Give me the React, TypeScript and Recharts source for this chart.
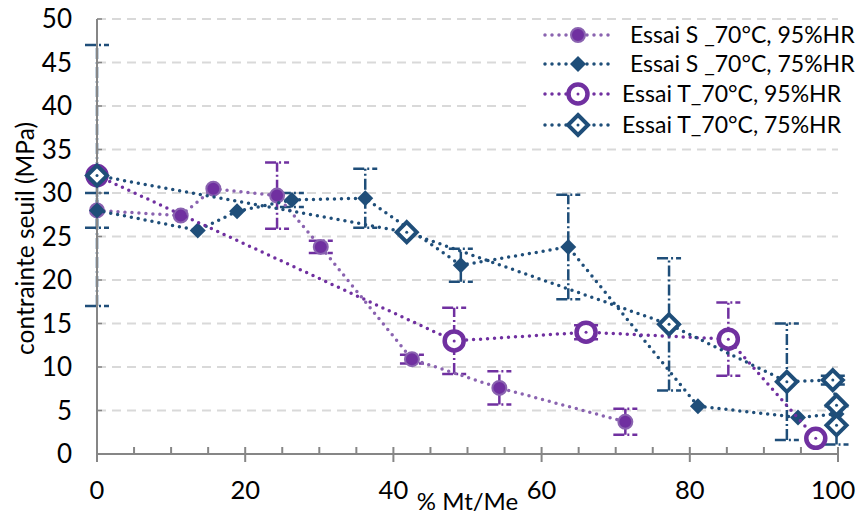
import React from 'react';
import { ScatterChart, Scatter, XAxis, YAxis, CartesianGrid, ErrorBar } from 'recharts';

// Essai S _70°C, 95%HR
const S95_X = [0, 11.3, 15.7, 24.3, 30.2, 42.5, 54.3, 71.3];
const S95_Y = [28, 27.4, 30.5, 29.7, 23.8, 10.9, 7.6, 3.7];
const S95_ERR = [0, 0, 0, 3.8, 0.7, 0.5, 1.9, 1.5];

// Essai S _70°C, 75%HR
const S75_X = [0, 13.6, 18.9, 26.3, 36.2, 49.1, 63.6, 81.1, 94.6, 99.8];
const S75_Y = [28, 25.7, 27.9, 29.2, 29.4, 21.7, 23.8, 5.5, 4.2, 4.6];
const S75_ERR = [2, 0, 0, 0.8, 3.4, 1.9, 6, 0, 0, 0];

// Essai T_70°C, 95%HR
const T95_X = [0, 48.2, 66.0, 85.2, 97.0];
const T95_Y = [32, 13.0, 14.0, 13.2, 1.8];
const T95_ERR = [0, 3.8, 0.8, 4.2, 0];

// Essai T_70°C, 75%HR
const T75_X = [0, 41.8, 77.2, 93.1, 99.3, 99.8, 99.8];
const T75_Y = [32, 25.5, 14.9, 8.3, 8.5, 5.6, 3.3];
const T75_ERR = [15, 0, 7.6, 6.7, 0.5, 0, 2.2];

const X_TICKS = [0, 5, 10, 15, 20, 25, 30, 35, 40, 45, 50, 55, 60, 65, 70, 75, 80, 85, 90, 95, 100];
const Y_TICKS = [0, 5, 10, 15, 20, 25, 30, 35, 40, 45, 50];

const LABELS = [
    'Essai S _70°C, 95%HR',
    'Essai S _70°C, 75%HR',
    'Essai T_70°C, 95%HR',
    'Essai T_70°C, 75%HR',
];

const PURPLE = '#7030A0';
const PURPLE_LIGHT = '#8A63B0';
const BLUE = '#1F4E79';
const AXIS = '#868686';
const FONT = 'Lato, "Open Sans", sans-serif';

const toPoints = (xs: number[], ys: number[], errs: number[]) =>
    xs.map((x, i) => ({ x, y: ys[i], err: errs[i] }));

const dotted = (color: string) => ({
    stroke: color,
    strokeWidth: 3.5,
    strokeDasharray: '0 7',
    strokeLinecap: 'round' as const,
});

// markers
const FilledCircle = (cx: number, cy: number) => (
    <circle cx={cx} cy={cy} r={7} fill={PURPLE} stroke={PURPLE_LIGHT} strokeWidth={2} />
);
const FilledDiamond = (cx: number, cy: number) => (
    <polygon points={`${cx},${cy - 8} ${cx + 8},${cy} ${cx},${cy + 8} ${cx - 8},${cy}`} fill={BLUE} />
);
const Ring = (cx: number, cy: number) => (
    <g>
        <circle cx={cx} cy={cy} r={9.5} fill="#fff" stroke={PURPLE} strokeWidth={4.5} />
        <circle cx={cx} cy={cy} r={1.5} fill={PURPLE} />
    </g>
);
const OpenDiamond = (cx: number, cy: number) => (
    <g>
        <polygon points={`${cx},${cy - 10} ${cx + 10},${cy} ${cx},${cy + 10} ${cx - 10},${cy}`}
            fill="#fff" stroke={BLUE} strokeWidth={4} />
        <circle cx={cx} cy={cy} r={1.5} fill={BLUE} />
    </g>
);

const MARKERS = [FilledCircle, FilledDiamond, Ring, OpenDiamond];
const LINE_COLORS = [PURPLE_LIGHT, BLUE, PURPLE, BLUE];

const shapeOf = (m: (cx: number, cy: number) => React.ReactElement) => (p: any) => m(p.cx, p.cy);

const XTick = (props: any) => {
    const { x, y, payload } = props;
    const major = payload.value % 20 === 0;
    // keep the last label inside the picture
    const tx = Math.min(x, 833);
    return (
        <g>
            <line x1={x} x2={x} y1={y - 7} y2={major ? y + 8 : y} stroke={AXIS} strokeWidth={2} />
            {major && (
                <text x={tx} y={y + 45} textAnchor="middle" fontFamily={FONT} fontSize={25.5} fill="#000">
                    {payload.value}
                </text>
            )}
        </g>
    );
};

const YTick = (props: any) => {
    const { x, y, payload } = props;
    return (
        <g>
            <line x1={x} x2={x + 5} y1={y} y2={y} stroke={AXIS} strokeWidth={1.5} />
            <text x={x - 25} y={y + 9} textAnchor="end" fontFamily={FONT} fontSize={26} fill="#000">
                {payload.value}
            </text>
        </g>
    );
};

const LegendBox = () => {
    const rows = [15, 44, 74, 105];
    const textX = [98, 98, 90, 90];
    return (
        <svg width={327} height={122} style={{ display: 'block', background: '#fff' }}>
            {rows.map((cy, i) => (
                <g key={i}>
                    <line x1={13} x2={80} y1={cy} y2={cy} {...dotted(LINE_COLORS[i])} />
                    {MARKERS[i](46, cy)}
                    <text x={textX[i]} y={cy + 8} fontFamily={FONT} fontSize={23} fill="#000">
                        {LABELS[i]}
                    </text>
                </g>
            ))}
        </svg>
    );
};

const App: React.FC = () => {
    const series = [
        toPoints(S95_X, S95_Y, S95_ERR),
        toPoints(S75_X, S75_Y, S75_ERR),
        toPoints(T95_X, T95_Y, T95_ERR),
        toPoints(T75_X, T75_Y, T75_ERR),
    ];
    const errColors = [PURPLE, BLUE, PURPLE, BLUE];

    return (
        <div style={{ position: 'absolute', left: 0, top: 0, width: 859, height: 517, background: '#fff' }}>
            <ScatterChart width={859} height={517} margin={{ top: 19, right: 21, bottom: 0, left: 0 }}>
                <CartesianGrid vertical={false} stroke="#D9D9D9" strokeWidth={2} strokeDasharray="9 6" />
                <XAxis
                    type="number"
                    dataKey="x"
                    domain={[0, 100]}
                    ticks={X_TICKS}
                    interval={0}
                    height={63}
                    tickSize={0}
                    tickMargin={0}
                    tickLine={false}
                    tick={<XTick />}
                    axisLine={{ stroke: AXIS, strokeWidth: 2 }}
                    label={{
                        content: (p: any) => {
                            const vb = p.viewBox;
                            return (
                                <text x={vb.x + vb.width / 2} y={vb.y + 56} textAnchor="middle"
                                    fontFamily={FONT} fontSize={24} fill="#000">% Mt/Me</text>
                            );
                        },
                    }}
                />
                <YAxis
                    type="number"
                    dataKey="y"
                    domain={[0, 50]}
                    ticks={Y_TICKS}
                    interval={0}
                    width={97}
                    tickSize={0}
                    tickMargin={0}
                    tickLine={false}
                    tick={<YTick />}
                    axisLine={{ stroke: AXIS, strokeWidth: 2 }}
                    label={{
                        content: (p: any) => {
                            const vb = p.viewBox;
                            const cy = vb.y + vb.height / 2 + 2;
                            return (
                                <text x={24} y={cy} transform={`rotate(-90, 24, ${cy})`} textAnchor="middle"
                                    dominantBaseline="central" fontFamily={FONT} fontSize={24.5} fill="#000">
                                    contrainte seuil (MPa)
                                </text>
                            );
                        },
                    }}
                />
                {series.map((data, i) => (
                    <Scatter
                        key={i}
                        name={LABELS[i]}
                        data={data}
                        line={dotted(LINE_COLORS[i])}
                        lineType="joint"
                        shape={shapeOf(MARKERS[i])}
                        isAnimationActive={false}
                    >
                        <ErrorBar
                            dataKey="err"
                            direction="y"
                            width={12}
                            stroke={errColors[i]}
                            strokeWidth={2.5}
                            strokeDasharray="11 3 2 3"
                        />
                    </Scatter>
                ))}
            </ScatterChart>
            <div style={{ position: 'absolute', left: 532, top: 20 }}>
                <LegendBox />
            </div>
        </div>
    );
};

export default App;
